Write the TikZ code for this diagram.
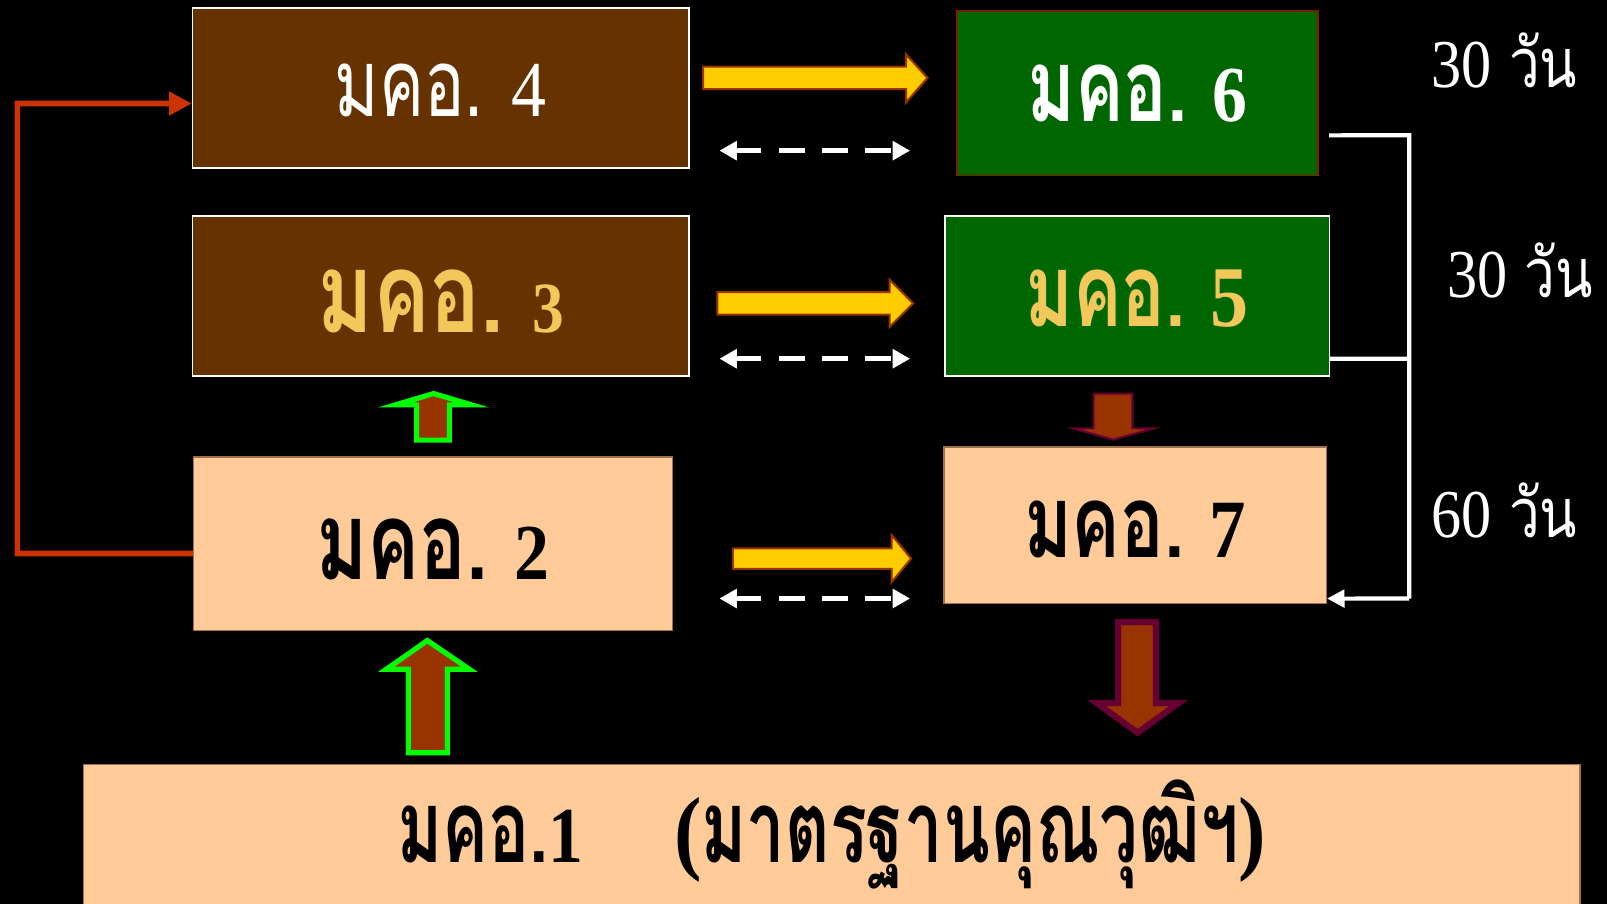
\documentclass[tikz,border=0pt]{standalone}
\usepackage{fontspec}
\usepackage{graphicx}
\newfontfamily\thaifont[Script=Thai]{Loma}
\newfontfamily\digfont{Liberation Serif}
\usetikzlibrary{arrows.meta}
\definecolor{boxbrown}{HTML}{663300}
\definecolor{boxgreen}{HTML}{006600}
\definecolor{peach}{HTML}{FFCC99}
\definecolor{peachedge}{HTML}{A0704A}
\definecolor{txtyellow}{HTML}{F2C85A}
\definecolor{arrowyellow}{HTML}{FFCC00}
\definecolor{rust}{HTML}{993300}
\definecolor{plum}{HTML}{660033}
\definecolor{linkred}{HTML}{CC3300}
\definecolor{brightgreen}{HTML}{00FF00}
\definecolor{sixedge}{HTML}{7A2000}
\newcommand{\thx}[2][0.72]{\scalebox{#1}[1]{\thaifont #2}}
\newcommand{\dg}[2][22]{\scalebox{0.88}[1]{\digfont\fontsize{#1}{#1}\selectfont #2}}
\tikzset{
  box/.style={rectangle, inner sep=0pt, line width=0.015cm, text depth=0pt},
  brownbox/.style={box, draw=white, fill=boxbrown},
  greenbox/.style={box, fill=boxgreen},
  peachbox/.style={box, draw=peachedge, fill=peach, text=black},
  yellowarrow/.style={fill=arrowyellow, draw=rust, line width=0.02cm, line join=miter},
  greenup/.style={fill=rust, draw=brightgreen, line width=0.05cm, line join=miter},
  plumdown/.style={fill=rust, draw=plum, line join=miter},
  dashpair/.style={draw=white, line width=0.05cm, dash pattern=on 0.25cm off 0.17cm,
    {Triangle[length=0.17cm,width=0.18cm]}-{Triangle[length=0.17cm,width=0.18cm]}},
  redlink/.style={draw=linkred, line width=0.055cm, -{Triangle[length=0.22cm,width=0.22cm]}},
  whitelink/.style={draw=white, line width=0.04cm},
  daylabel/.style={text=white, inner sep=0pt, anchor=base}
}
\begin{document}
\begin{tikzpicture}[x=0.01cm, y=-0.01cm]
\fill[black] (0,0) rectangle (1568,882);
\useasboundingbox (0,0) rectangle (1568,882);

% boxes
\node[brownbox, minimum width=4.84cm, minimum height=1.56cm, text height=0.56cm, text=white,
  font=\fontsize{26}{30}\selectfont] (b4) at (430,86) {\thx{มคอ.}\hspace{0.3em}\dg{4}};
\node[brownbox, minimum width=4.84cm, minimum height=1.56cm, text height=0.70cm, text=txtyellow,
  font=\fontsize{31}{34}\selectfont\bfseries] (b3) at (430,289) {\thx[0.76]{มคอ.}\hspace{0.25em}\dg[20]{3}};
\node[greenbox, draw=sixedge, minimum width=3.52cm, minimum height=1.60cm, text height=0.56cm, text=white,
  font=\fontsize{28}{32}\selectfont\bfseries] (b6) at (1110,91) {\thx{มคอ.}\hspace{0.25em}\dg{6}};
\node[greenbox, draw=white, minimum width=3.75cm, minimum height=1.56cm, text height=0.60cm, text=txtyellow,
  font=\fontsize{28}{32}\selectfont\bfseries] (b5) at (1109.5,289) {\thx{มคอ.}\hspace{0.25em}\dg[24]{5}};
\node[peachbox, minimum width=4.67cm, minimum height=1.69cm, text height=0.69cm,
  font=\fontsize{30}{34}\selectfont\bfseries] (b2) at (422.5,530.5) {\thx{มคอ.}\hspace{0.25em}\dg{2}};
\node[peachbox, minimum width=3.73cm, minimum height=1.53cm, text height=0.63cm,
  font=\fontsize{28}{32}\selectfont\bfseries] (b7) at (1107.5,512.5) {\thx{มคอ.}\hspace{0.25em}\dg[23]{7}};
\node[peachbox, minimum width=14.59cm, minimum height=1.54cm, text height=0.38cm,
  font=\fontsize{28}{32}\selectfont\bfseries] (b1) at (811.5,823) {\thx[0.68]{มคอ.}\dg{1}\hspace{0.9em}\dg[26]{(}\thx[0.68]{มาตรฐานคุณวุฒิฯ}\dg[26]{)}};

% day labels
\node[daylabel, font=\fontsize{19}{22}\selectfont] (d1) at (1468,85) {\dg[19]{30}\hspace{0.25em}\thx[0.8]{วัน}};
\node[daylabel, font=\fontsize{19}{22}\selectfont] (d2) at (1483,290) {\dg[19]{30}\hspace{0.25em}\thx[0.8]{วัน}};
\node[daylabel, font=\fontsize{19}{22}\selectfont] (d3) at (1468,524) {\dg[19]{60}\hspace{0.25em}\thx[0.8]{วัน}};

% yellow block arrows
\draw[yellowarrow] (686,65) -- (884,65) -- (884,53) -- (905,76) -- (884,100) -- (884,87) -- (686,87) -- cycle;
\draw[yellowarrow] (700,285) -- (868,285) -- (868,273) -- (891,296) -- (868,319) -- (868,307) -- (700,307) -- cycle;
\draw[yellowarrow] (715,535) -- (870,535) -- (870,522) -- (889,545) -- (870,568) -- (870,555) -- (715,555) -- cycle;

% dashed double arrows
\coordinate (dl1) at (702,147); \coordinate (dr1) at (888,147);
\coordinate (dl2) at (702,350); \coordinate (dr2) at (888,350);
\coordinate (dl3) at (702,584); \coordinate (dr3) at (888,584);
\draw[dashpair] (dl1) -- (dr1);
\draw[dashpair] (dl2) -- (dr2);
\draw[dashpair] (dl3) -- (dr3);

% red link from b2 to b4
\coordinate (rc) at (17,101);
\draw[redlink] ([yshift=-0.095cm]b2.west) -| (rc) -- ([yshift=-0.15cm]b4.west);

% white bracket
\coordinate (wtop) at (1375,132);
\coordinate (wbot) at (1375,584);
\draw[whitelink] ([xshift=0.10cm,yshift=-0.41cm]b6.east) -- (wtop) -- (wbot);
\draw[whitelink] ([yshift=-0.61cm]b5.east) -- (wtop |- 0,350);
\draw[whitelink, -{Triangle[length=0.17cm,width=0.17cm]}] (wbot) -- ([yshift=-0.715cm]b7.east);

% green-outlined up arrows
\draw[greenup] (406.5,429.5) -- (406.5,395) -- (386,395) -- (423,384) -- (460,395) -- (438.5,395) -- (438.5,429.5) -- cycle;
\draw[greenup] (398.5,734.5) -- (398.5,653) -- (377,653) -- (417,625) -- (458,653) -- (436.5,653) -- (436.5,734.5) -- cycle;

% plum-outlined down arrows
\draw[plumdown, line width=0.02cm] (1067,384) -- (1067,418) -- (1047,418) -- (1086,429) -- (1126,418) -- (1105,418) -- (1105,384) -- cycle;
\draw[plumdown, line width=0.06cm] (1091,607) -- (1091,686) -- (1070,686) -- (1110,715) -- (1150,686) -- (1128,686) -- (1128,607) -- cycle;
\end{tikzpicture}
\end{document}
